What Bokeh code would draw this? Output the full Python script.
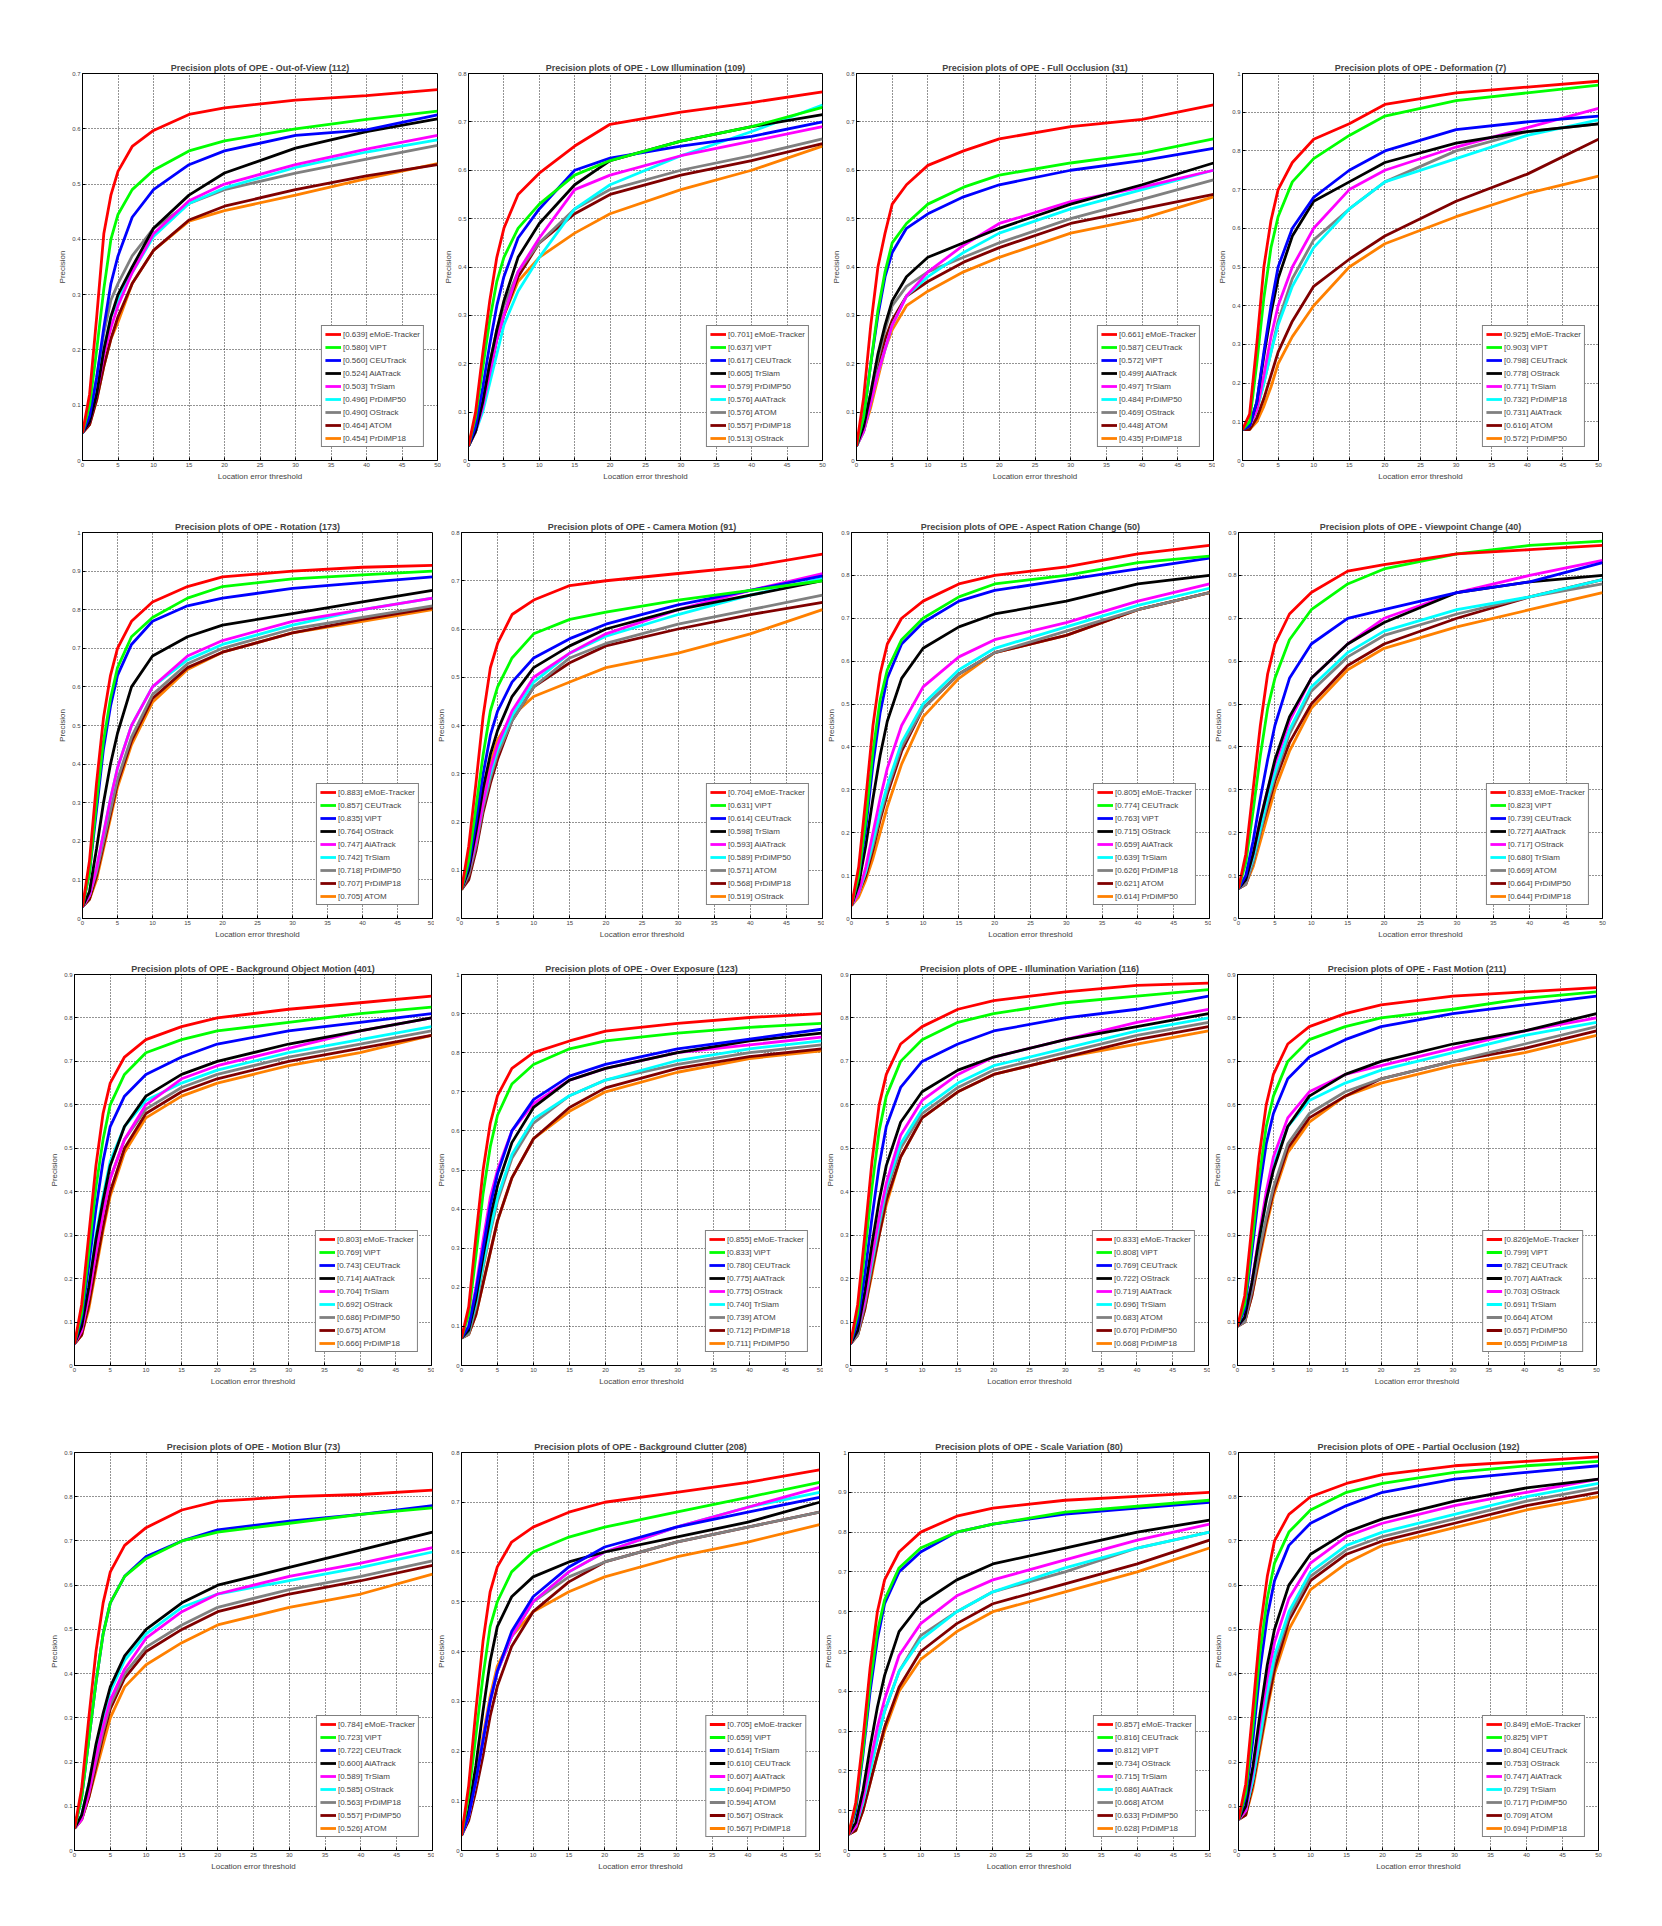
from bokeh.plotting import figure
from bokeh.models import (FixedTicker, CustomJSTickFormatter, Legend, LegendItem,
                          Spacer, Range1d)
from bokeh.layouts import row, column
from bokeh.embed import file_html
from bokeh.resources import INLINE

# ---------------- data ----------------
THRESHOLDS = [0, 1, 2, 3, 4, 5, 7, 10, 15, 20, 30, 40, 50]
COLORS = ["#ff0000", "#00ff00", "#0000ff", "#000000", "#ff00ff",
          "#00ffff", "#808080", "#800000", "#ff8000"]

TITLE_1 = "Precision plots of OPE - Out-of-View (112)"
YMAX_1 = 0.7
NAMES_1 = ["eMoE-Tracker", "ViPT", "CEUTrack", "AiATrack", "TrSiam", "PrDiMP50", "OStrack", "ATOM", "PrDiMP18"]
SCORES_1 = [0.639, 0.580, 0.560, 0.524, 0.503, 0.496, 0.490, 0.464, 0.454]
CURVES_1 = [
    [0.05, 0.12, 0.26, 0.41, 0.48, 0.523, 0.568, 0.597, 0.626, 0.638, 0.652, 0.66, 0.671],
    [0.05, 0.10, 0.20, 0.31, 0.40, 0.445, 0.49, 0.525, 0.56, 0.578, 0.60, 0.617, 0.632],
    [0.05, 0.08, 0.15, 0.24, 0.32, 0.37, 0.44, 0.49, 0.535, 0.56, 0.588, 0.598, 0.625],
    [0.05, 0.07, 0.12, 0.20, 0.26, 0.30, 0.35, 0.42, 0.48, 0.52, 0.565, 0.595, 0.618],
    [0.05, 0.07, 0.12, 0.19, 0.24, 0.28, 0.34, 0.41, 0.47, 0.50, 0.535, 0.563, 0.588],
    [0.05, 0.08, 0.13, 0.20, 0.26, 0.29, 0.34, 0.405, 0.465, 0.493, 0.53, 0.558, 0.58],
    [0.05, 0.08, 0.15, 0.23, 0.29, 0.32, 0.37, 0.42, 0.465, 0.49, 0.52, 0.545, 0.57],
    [0.05, 0.065, 0.11, 0.17, 0.22, 0.26, 0.32, 0.38, 0.435, 0.46, 0.49, 0.515, 0.535],
    [0.05, 0.065, 0.11, 0.17, 0.22, 0.25, 0.32, 0.38, 0.433, 0.452, 0.48, 0.51, 0.537],
]

TITLE_2 = "Precision plots of OPE - Low Illumination (109)"
YMAX_2 = 0.8
NAMES_2 = ["eMoE-Tracker", "ViPT", "CEUTrack", "TrSiam", "PrDiMP50", "AiATrack", "ATOM", "PrDiMP18", "OStrack"]
SCORES_2 = [0.701, 0.637, 0.617, 0.605, 0.579, 0.576, 0.576, 0.557, 0.513]
CURVES_2 = [
    [0.03, 0.10, 0.22, 0.33, 0.42, 0.48, 0.55, 0.594, 0.65, 0.695, 0.72, 0.74, 0.762],
    [0.03, 0.09, 0.19, 0.29, 0.37, 0.42, 0.48, 0.53, 0.59, 0.62, 0.66, 0.69, 0.73],
    [0.03, 0.07, 0.15, 0.24, 0.32, 0.38, 0.46, 0.52, 0.60, 0.625, 0.65, 0.67, 0.70],
    [0.03, 0.06, 0.12, 0.20, 0.27, 0.33, 0.42, 0.49, 0.57, 0.62, 0.66, 0.69, 0.715],
    [0.03, 0.06, 0.11, 0.18, 0.25, 0.30, 0.39, 0.46, 0.56, 0.59, 0.63, 0.66, 0.69],
    [0.03, 0.06, 0.10, 0.16, 0.22, 0.28, 0.35, 0.42, 0.52, 0.57, 0.63, 0.68, 0.735],
    [0.03, 0.06, 0.12, 0.20, 0.27, 0.32, 0.39, 0.45, 0.52, 0.56, 0.60, 0.63, 0.665],
    [0.03, 0.06, 0.11, 0.18, 0.25, 0.30, 0.38, 0.45, 0.51, 0.55, 0.59, 0.62, 0.655],
    [0.03, 0.06, 0.12, 0.20, 0.26, 0.30, 0.37, 0.42, 0.47, 0.51, 0.56, 0.60, 0.65],
]

TITLE_3 = "Precision plots of OPE - Full Occlusion (31)"
YMAX_3 = 0.8
NAMES_3 = ["eMoE-Tracker", "CEUTrack", "ViPT", "AiATrack", "TrSiam", "PrDiMP50", "OStrack", "ATOM", "PrDiMP18"]
SCORES_3 = [0.661, 0.587, 0.572, 0.499, 0.497, 0.484, 0.469, 0.448, 0.435]
CURVES_3 = [
    [0.03, 0.13, 0.28, 0.40, 0.47, 0.53, 0.57, 0.61, 0.64, 0.665, 0.69, 0.705, 0.735],
    [0.03, 0.09, 0.20, 0.31, 0.39, 0.45, 0.49, 0.53, 0.565, 0.59, 0.615, 0.635, 0.665],
    [0.03, 0.09, 0.20, 0.30, 0.38, 0.43, 0.48, 0.51, 0.545, 0.57, 0.60, 0.62, 0.645],
    [0.03, 0.07, 0.14, 0.22, 0.28, 0.33, 0.38, 0.42, 0.45, 0.48, 0.53, 0.57, 0.615],
    [0.03, 0.06, 0.12, 0.18, 0.23, 0.28, 0.34, 0.39, 0.445, 0.49, 0.535, 0.565, 0.60],
    [0.03, 0.06, 0.12, 0.18, 0.23, 0.28, 0.34, 0.38, 0.43, 0.47, 0.52, 0.56, 0.60],
    [0.03, 0.07, 0.14, 0.21, 0.27, 0.32, 0.36, 0.39, 0.42, 0.45, 0.50, 0.54, 0.58],
    [0.03, 0.06, 0.12, 0.19, 0.25, 0.29, 0.34, 0.37, 0.41, 0.44, 0.49, 0.52, 0.55],
    [0.03, 0.06, 0.11, 0.17, 0.23, 0.27, 0.32, 0.35, 0.39, 0.42, 0.47, 0.50, 0.545],
]

TITLE_4 = "Precision plots of OPE - Deformation (7)"
YMAX_4 = 1.0
NAMES_4 = ["eMoE-Tracker", "ViPT", "CEUTrack", "OStrack", "TrSiam", "PrDiMP18", "AiATrack", "ATOM", "PrDiMP50"]
SCORES_4 = [0.925, 0.903, 0.798, 0.778, 0.771, 0.732, 0.731, 0.616, 0.572]
CURVES_4 = [
    [0.08, 0.12, 0.30, 0.50, 0.62, 0.70, 0.77, 0.83, 0.87, 0.92, 0.95, 0.965, 0.98],
    [0.08, 0.10, 0.25, 0.42, 0.55, 0.63, 0.72, 0.78, 0.84, 0.89, 0.93, 0.95, 0.97],
    [0.08, 0.09, 0.15, 0.28, 0.40, 0.50, 0.60, 0.68, 0.75, 0.80, 0.855, 0.875, 0.89],
    [0.08, 0.09, 0.15, 0.27, 0.38, 0.47, 0.58, 0.67, 0.72, 0.77, 0.82, 0.85, 0.87],
    [0.08, 0.09, 0.13, 0.22, 0.32, 0.40, 0.50, 0.60, 0.70, 0.75, 0.81, 0.86, 0.91],
    [0.08, 0.09, 0.13, 0.20, 0.28, 0.35, 0.45, 0.55, 0.65, 0.72, 0.78, 0.84, 0.88],
    [0.08, 0.09, 0.13, 0.20, 0.28, 0.36, 0.47, 0.57, 0.65, 0.72, 0.80, 0.85, 0.87],
    [0.08, 0.08, 0.11, 0.16, 0.22, 0.28, 0.36, 0.45, 0.52, 0.58, 0.67, 0.74, 0.83],
    [0.08, 0.08, 0.10, 0.14, 0.19, 0.25, 0.32, 0.40, 0.50, 0.56, 0.63, 0.69, 0.735],
]

TITLE_5 = "Precision plots of OPE - Rotation (173)"
YMAX_5 = 1.0
NAMES_5 = ["eMoE-Tracker", "CEUTrack", "ViPT", "OStrack", "AiATrack", "TrSiam", "PrDiMP50", "PrDiMP18", "ATOM"]
SCORES_5 = [0.883, 0.857, 0.835, 0.764, 0.747, 0.742, 0.718, 0.707, 0.705]
CURVES_5 = [
    [0.03, 0.15, 0.35, 0.52, 0.63, 0.70, 0.77, 0.82, 0.86, 0.885, 0.90, 0.91, 0.915],
    [0.03, 0.12, 0.30, 0.46, 0.57, 0.65, 0.73, 0.78, 0.83, 0.86, 0.88, 0.89, 0.90],
    [0.03, 0.12, 0.28, 0.44, 0.55, 0.63, 0.71, 0.77, 0.81, 0.83, 0.855, 0.87, 0.885],
    [0.03, 0.07, 0.18, 0.30, 0.40, 0.48, 0.60, 0.68, 0.73, 0.76, 0.79, 0.82, 0.85],
    [0.03, 0.06, 0.13, 0.22, 0.31, 0.39, 0.50, 0.60, 0.68, 0.72, 0.77, 0.80, 0.83],
    [0.03, 0.06, 0.13, 0.22, 0.31, 0.39, 0.50, 0.60, 0.67, 0.71, 0.76, 0.80, 0.83],
    [0.03, 0.06, 0.12, 0.20, 0.28, 0.36, 0.47, 0.58, 0.66, 0.70, 0.75, 0.78, 0.81],
    [0.03, 0.05, 0.11, 0.19, 0.27, 0.35, 0.46, 0.57, 0.65, 0.69, 0.74, 0.775, 0.805],
    [0.03, 0.05, 0.10, 0.18, 0.26, 0.34, 0.45, 0.56, 0.645, 0.69, 0.74, 0.77, 0.80],
]

TITLE_6 = "Precision plots of OPE - Camera Motion (91)"
YMAX_6 = 0.8
NAMES_6 = ["eMoE-Tracker", "ViPT", "CEUTrack", "TrSiam", "AiATrack", "PrDiMP50", "ATOM", "PrDiMP18", "OStrack"]
SCORES_6 = [0.704, 0.631, 0.614, 0.598, 0.593, 0.589, 0.571, 0.568, 0.519]
CURVES_6 = [
    [0.06, 0.15, 0.28, 0.42, 0.52, 0.57, 0.63, 0.66, 0.69, 0.70, 0.715, 0.73, 0.755],
    [0.06, 0.12, 0.23, 0.34, 0.43, 0.48, 0.54, 0.59, 0.62, 0.635, 0.66, 0.68, 0.70],
    [0.06, 0.11, 0.20, 0.30, 0.38, 0.43, 0.49, 0.54, 0.58, 0.61, 0.65, 0.68, 0.71],
    [0.06, 0.10, 0.18, 0.27, 0.34, 0.39, 0.46, 0.52, 0.565, 0.60, 0.64, 0.67, 0.70],
    [0.06, 0.10, 0.16, 0.24, 0.31, 0.36, 0.43, 0.50, 0.55, 0.59, 0.64, 0.68, 0.715],
    [0.06, 0.10, 0.16, 0.24, 0.30, 0.35, 0.42, 0.49, 0.55, 0.585, 0.63, 0.67, 0.705],
    [0.06, 0.09, 0.15, 0.23, 0.29, 0.34, 0.41, 0.48, 0.54, 0.57, 0.61, 0.64, 0.67],
    [0.06, 0.08, 0.14, 0.22, 0.28, 0.33, 0.41, 0.48, 0.53, 0.565, 0.60, 0.63, 0.655],
    [0.06, 0.09, 0.16, 0.25, 0.32, 0.37, 0.42, 0.46, 0.49, 0.52, 0.55, 0.59, 0.64],
]

TITLE_7 = "Precision plots of OPE - Aspect Ration Change (50)"
YMAX_7 = 0.9
NAMES_7 = ["eMoE-Tracker", "CEUTrack", "ViPT", "OStrack", "AiATrack", "TrSiam", "PrDiMP18", "ATOM", "PrDiMP50"]
SCORES_7 = [0.805, 0.774, 0.763, 0.715, 0.659, 0.639, 0.626, 0.621, 0.614]
CURVES_7 = [
    [0.03, 0.12, 0.28, 0.45, 0.57, 0.64, 0.70, 0.74, 0.78, 0.80, 0.82, 0.85, 0.87],
    [0.03, 0.10, 0.23, 0.39, 0.51, 0.58, 0.65, 0.70, 0.75, 0.78, 0.80, 0.83, 0.845],
    [0.03, 0.10, 0.21, 0.36, 0.48, 0.56, 0.64, 0.69, 0.74, 0.765, 0.79, 0.815, 0.84],
    [0.03, 0.08, 0.17, 0.28, 0.38, 0.46, 0.56, 0.63, 0.68, 0.71, 0.74, 0.78, 0.80],
    [0.03, 0.06, 0.12, 0.20, 0.28, 0.35, 0.45, 0.54, 0.61, 0.65, 0.69, 0.74, 0.78],
    [0.03, 0.06, 0.11, 0.18, 0.25, 0.31, 0.41, 0.50, 0.58, 0.63, 0.68, 0.73, 0.77],
    [0.03, 0.06, 0.11, 0.17, 0.24, 0.30, 0.40, 0.49, 0.57, 0.62, 0.67, 0.72, 0.76],
    [0.03, 0.06, 0.10, 0.16, 0.23, 0.29, 0.39, 0.49, 0.57, 0.62, 0.66, 0.72, 0.76],
    [0.03, 0.05, 0.09, 0.14, 0.20, 0.26, 0.36, 0.47, 0.56, 0.62, 0.66, 0.72, 0.76],
]

TITLE_8 = "Precision plots of OPE - Viewpoint Change (40)"
YMAX_8 = 0.9
NAMES_8 = ["eMoE-Tracker", "ViPT", "CEUTrack", "AiATrack", "OStrack", "TrSiam", "ATOM", "PrDiMP50", "PrDiMP18"]
SCORES_8 = [0.833, 0.823, 0.739, 0.727, 0.717, 0.680, 0.669, 0.664, 0.644]
CURVES_8 = [
    [0.07, 0.15, 0.30, 0.45, 0.57, 0.64, 0.71, 0.76, 0.81, 0.825, 0.85, 0.86, 0.87],
    [0.07, 0.13, 0.25, 0.38, 0.49, 0.56, 0.65, 0.72, 0.78, 0.815, 0.85, 0.87, 0.88],
    [0.07, 0.10, 0.18, 0.28, 0.37, 0.45, 0.56, 0.64, 0.70, 0.72, 0.76, 0.785, 0.83],
    [0.07, 0.09, 0.15, 0.23, 0.30, 0.37, 0.47, 0.56, 0.64, 0.69, 0.76, 0.785, 0.80],
    [0.07, 0.09, 0.15, 0.23, 0.30, 0.36, 0.46, 0.56, 0.64, 0.70, 0.76, 0.80, 0.835],
    [0.07, 0.09, 0.14, 0.21, 0.28, 0.34, 0.44, 0.54, 0.62, 0.67, 0.72, 0.75, 0.79],
    [0.07, 0.08, 0.13, 0.20, 0.27, 0.33, 0.43, 0.53, 0.61, 0.66, 0.71, 0.75, 0.78],
    [0.07, 0.08, 0.13, 0.20, 0.26, 0.32, 0.41, 0.50, 0.59, 0.64, 0.70, 0.75, 0.79],
    [0.07, 0.08, 0.12, 0.18, 0.24, 0.30, 0.39, 0.49, 0.58, 0.63, 0.68, 0.72, 0.76],
]

TITLE_9 = "Precision plots of OPE - Background Object Motion (401)"
YMAX_9 = 0.9
NAMES_9 = ["eMoE-Tracker", "ViPT", "CEUTrack", "AiATrack", "TrSiam", "OStrack", "PrDiMP50", "ATOM", "PrDiMP18"]
SCORES_9 = [0.803, 0.769, 0.743, 0.714, 0.704, 0.692, 0.686, 0.675, 0.666]
CURVES_9 = [
    [0.05, 0.14, 0.30, 0.46, 0.58, 0.65, 0.71, 0.75, 0.78, 0.80, 0.82, 0.835, 0.85],
    [0.05, 0.12, 0.26, 0.41, 0.52, 0.60, 0.67, 0.72, 0.75, 0.77, 0.79, 0.81, 0.825],
    [0.05, 0.11, 0.23, 0.36, 0.47, 0.55, 0.62, 0.67, 0.71, 0.74, 0.77, 0.79, 0.81],
    [0.05, 0.09, 0.18, 0.29, 0.38, 0.46, 0.55, 0.62, 0.67, 0.70, 0.74, 0.77, 0.80],
    [0.05, 0.08, 0.16, 0.26, 0.35, 0.43, 0.52, 0.60, 0.66, 0.69, 0.73, 0.77, 0.80],
    [0.05, 0.09, 0.18, 0.30, 0.39, 0.47, 0.55, 0.61, 0.65, 0.68, 0.72, 0.75, 0.78],
    [0.05, 0.08, 0.16, 0.26, 0.35, 0.43, 0.52, 0.59, 0.64, 0.67, 0.71, 0.74, 0.77],
    [0.05, 0.07, 0.14, 0.23, 0.32, 0.40, 0.50, 0.58, 0.63, 0.66, 0.70, 0.73, 0.76],
    [0.05, 0.07, 0.13, 0.22, 0.31, 0.39, 0.49, 0.57, 0.62, 0.65, 0.69, 0.72, 0.76],
]

TITLE_10 = "Precision plots of OPE - Over Exposure (123)"
YMAX_10 = 1.0
NAMES_10 = ["eMoE-Tracker", "ViPT", "CEUTrack", "AiATrack", "OStrack", "TrSiam", "ATOM", "PrDiMP18", "PrDiMP50"]
SCORES_10 = [0.855, 0.833, 0.780, 0.775, 0.775, 0.740, 0.739, 0.712, 0.711]
CURVES_10 = [
    [0.07, 0.15, 0.33, 0.50, 0.62, 0.69, 0.76, 0.80, 0.83, 0.855, 0.875, 0.89, 0.90],
    [0.07, 0.13, 0.28, 0.44, 0.56, 0.64, 0.72, 0.77, 0.81, 0.83, 0.85, 0.865, 0.875],
    [0.07, 0.10, 0.19, 0.30, 0.41, 0.49, 0.60, 0.68, 0.74, 0.77, 0.81, 0.835, 0.86],
    [0.07, 0.09, 0.17, 0.28, 0.38, 0.46, 0.57, 0.66, 0.73, 0.76, 0.80, 0.83, 0.85],
    [0.07, 0.10, 0.20, 0.32, 0.43, 0.50, 0.60, 0.67, 0.73, 0.76, 0.80, 0.82, 0.84],
    [0.07, 0.09, 0.16, 0.26, 0.35, 0.43, 0.54, 0.63, 0.69, 0.73, 0.78, 0.81, 0.83],
    [0.07, 0.08, 0.15, 0.25, 0.34, 0.42, 0.53, 0.62, 0.69, 0.73, 0.77, 0.80, 0.82],
    [0.07, 0.08, 0.13, 0.21, 0.29, 0.37, 0.48, 0.58, 0.66, 0.71, 0.76, 0.79, 0.81],
    [0.07, 0.08, 0.13, 0.21, 0.29, 0.37, 0.48, 0.58, 0.65, 0.70, 0.75, 0.785, 0.805],
]

TITLE_11 = "Precision plots of OPE - Illumination Variation (116)"
YMAX_11 = 0.9
NAMES_11 = ["eMoE-Tracker", "ViPT", "CEUTrack", "OStrack", "AiATrack", "TrSiam", "ATOM", "PrDiMP50", "PrDiMP18"]
SCORES_11 = [0.833, 0.808, 0.769, 0.722, 0.719, 0.696, 0.683, 0.670, 0.668]
CURVES_11 = [
    [0.05, 0.14, 0.30, 0.47, 0.60, 0.67, 0.74, 0.78, 0.82, 0.84, 0.86, 0.875, 0.88],
    [0.05, 0.12, 0.26, 0.41, 0.54, 0.62, 0.70, 0.75, 0.79, 0.81, 0.835, 0.85, 0.865],
    [0.05, 0.10, 0.21, 0.34, 0.46, 0.55, 0.64, 0.70, 0.74, 0.77, 0.80, 0.82, 0.85],
    [0.05, 0.08, 0.17, 0.28, 0.38, 0.46, 0.56, 0.63, 0.68, 0.71, 0.75, 0.78, 0.81],
    [0.05, 0.08, 0.15, 0.25, 0.34, 0.42, 0.53, 0.61, 0.67, 0.71, 0.75, 0.79, 0.82],
    [0.05, 0.08, 0.15, 0.24, 0.33, 0.41, 0.51, 0.59, 0.65, 0.69, 0.73, 0.77, 0.80],
    [0.05, 0.07, 0.14, 0.23, 0.32, 0.40, 0.50, 0.58, 0.64, 0.68, 0.72, 0.76, 0.79],
    [0.05, 0.07, 0.13, 0.22, 0.30, 0.38, 0.48, 0.57, 0.63, 0.67, 0.71, 0.75, 0.78],
    [0.05, 0.07, 0.13, 0.21, 0.30, 0.37, 0.48, 0.57, 0.63, 0.67, 0.71, 0.74, 0.77],
]

TITLE_12 = "Precision plots of OPE - Fast Motion (211)"
YMAX_12 = 0.9
NAMES_12 = ["eMoE-Tracker", "ViPT", "CEUTrack", "AiATrack", "OStrack", "TrSiam", "ATOM", "PrDiMP50", "PrDiMP18"]
SCORES_12 = [0.826, 0.799, 0.782, 0.707, 0.703, 0.691, 0.664, 0.657, 0.655]
CURVES_12 = [
    [0.09, 0.16, 0.32, 0.48, 0.60, 0.67, 0.74, 0.78, 0.81, 0.83, 0.85, 0.86, 0.87],
    [0.09, 0.14, 0.28, 0.43, 0.55, 0.62, 0.70, 0.75, 0.78, 0.80, 0.82, 0.845, 0.86],
    [0.09, 0.13, 0.26, 0.40, 0.51, 0.58, 0.66, 0.71, 0.75, 0.78, 0.81, 0.83, 0.85],
    [0.09, 0.11, 0.19, 0.29, 0.38, 0.45, 0.55, 0.62, 0.67, 0.70, 0.74, 0.77, 0.81],
    [0.09, 0.11, 0.19, 0.30, 0.40, 0.48, 0.57, 0.63, 0.67, 0.69, 0.73, 0.77, 0.80],
    [0.09, 0.11, 0.19, 0.29, 0.38, 0.46, 0.55, 0.61, 0.65, 0.68, 0.72, 0.76, 0.79],
    [0.09, 0.10, 0.17, 0.26, 0.34, 0.41, 0.51, 0.58, 0.63, 0.66, 0.70, 0.74, 0.78],
    [0.09, 0.10, 0.16, 0.25, 0.33, 0.40, 0.50, 0.57, 0.62, 0.66, 0.70, 0.73, 0.77],
    [0.09, 0.10, 0.16, 0.24, 0.32, 0.39, 0.49, 0.56, 0.62, 0.65, 0.69, 0.72, 0.76],
]

TITLE_13 = "Precision plots of OPE - Motion Blur (73)"
YMAX_13 = 0.9
NAMES_13 = ["eMoE-Tracker", "ViPT", "CEUTrack", "AiATrack", "TrSiam", "OStrack", "PrDiMP18", "PrDiMP50", "ATOM"]
SCORES_13 = [0.784, 0.723, 0.722, 0.600, 0.589, 0.585, 0.563, 0.557, 0.526]
CURVES_13 = [
    [0.05, 0.14, 0.30, 0.45, 0.56, 0.63, 0.69, 0.73, 0.77, 0.79, 0.80, 0.805, 0.815],
    [0.05, 0.12, 0.25, 0.38, 0.49, 0.56, 0.62, 0.66, 0.70, 0.72, 0.74, 0.76, 0.775],
    [0.05, 0.12, 0.25, 0.38, 0.49, 0.56, 0.62, 0.665, 0.70, 0.725, 0.745, 0.76, 0.78],
    [0.05, 0.08, 0.15, 0.24, 0.31, 0.37, 0.44, 0.50, 0.56, 0.60, 0.64, 0.68, 0.72],
    [0.05, 0.07, 0.13, 0.21, 0.28, 0.34, 0.41, 0.48, 0.54, 0.58, 0.62, 0.65, 0.685],
    [0.05, 0.08, 0.15, 0.23, 0.30, 0.36, 0.43, 0.49, 0.55, 0.58, 0.61, 0.64, 0.675],
    [0.05, 0.07, 0.13, 0.20, 0.27, 0.33, 0.40, 0.46, 0.51, 0.55, 0.59, 0.62, 0.655],
    [0.05, 0.07, 0.12, 0.19, 0.26, 0.32, 0.39, 0.45, 0.50, 0.54, 0.58, 0.61, 0.645],
    [0.05, 0.07, 0.12, 0.18, 0.24, 0.30, 0.37, 0.42, 0.47, 0.51, 0.55, 0.58, 0.625],
]

TITLE_14 = "Precision plots of OPE - Background Clutter (208)"
YMAX_14 = 0.8
NAMES_14 = ["eMoE-tracker", "ViPT", "TrSiam", "CEUTrack", "AiATrack", "PrDiMP50", "ATOM", "OStrack", "PrDiMP18"]
SCORES_14 = [0.705, 0.659, 0.614, 0.610, 0.607, 0.604, 0.594, 0.567, 0.567]
CURVES_14 = [
    [0.03, 0.13, 0.28, 0.42, 0.52, 0.57, 0.62, 0.65, 0.68, 0.70, 0.72, 0.74, 0.765],
    [0.03, 0.11, 0.23, 0.35, 0.45, 0.50, 0.56, 0.60, 0.63, 0.65, 0.68, 0.71, 0.74],
    [0.03, 0.07, 0.14, 0.22, 0.30, 0.36, 0.44, 0.51, 0.57, 0.61, 0.65, 0.68, 0.71],
    [0.03, 0.08, 0.17, 0.28, 0.38, 0.45, 0.51, 0.55, 0.58, 0.60, 0.63, 0.66, 0.70],
    [0.03, 0.07, 0.14, 0.22, 0.30, 0.36, 0.43, 0.50, 0.56, 0.60, 0.65, 0.69, 0.73],
    [0.03, 0.07, 0.14, 0.22, 0.30, 0.36, 0.43, 0.50, 0.56, 0.60, 0.65, 0.69, 0.72],
    [0.03, 0.07, 0.14, 0.22, 0.30, 0.36, 0.43, 0.50, 0.55, 0.58, 0.62, 0.65, 0.68],
    [0.03, 0.06, 0.12, 0.19, 0.27, 0.33, 0.41, 0.48, 0.54, 0.58, 0.62, 0.65, 0.68],
    [0.03, 0.07, 0.14, 0.23, 0.31, 0.37, 0.43, 0.48, 0.52, 0.55, 0.59, 0.62, 0.655],
]

TITLE_15 = "Precision plots of OPE - Scale Variation (80)"
YMAX_15 = 1.0
NAMES_15 = ["eMoE-Tracker", "CEUTrack", "ViPT", "OStrack", "TrSiam", "AiATrack", "ATOM", "PrDiMP50", "PrDiMP18"]
SCORES_15 = [0.857, 0.816, 0.812, 0.734, 0.715, 0.686, 0.668, 0.633, 0.628]
CURVES_15 = [
    [0.04, 0.12, 0.28, 0.46, 0.60, 0.68, 0.75, 0.80, 0.84, 0.86, 0.88, 0.89, 0.90],
    [0.04, 0.11, 0.25, 0.42, 0.55, 0.63, 0.71, 0.76, 0.80, 0.82, 0.85, 0.865, 0.88],
    [0.04, 0.10, 0.24, 0.40, 0.53, 0.62, 0.70, 0.75, 0.80, 0.82, 0.845, 0.86, 0.875],
    [0.04, 0.07, 0.15, 0.26, 0.36, 0.44, 0.55, 0.62, 0.68, 0.72, 0.76, 0.80, 0.83],
    [0.04, 0.06, 0.13, 0.22, 0.31, 0.38, 0.49, 0.57, 0.64, 0.68, 0.73, 0.78, 0.82],
    [0.04, 0.06, 0.12, 0.20, 0.28, 0.35, 0.45, 0.53, 0.60, 0.65, 0.71, 0.76, 0.80],
    [0.04, 0.06, 0.12, 0.20, 0.28, 0.35, 0.45, 0.54, 0.60, 0.65, 0.70, 0.76, 0.80],
    [0.04, 0.05, 0.10, 0.17, 0.24, 0.31, 0.41, 0.50, 0.57, 0.62, 0.67, 0.72, 0.78],
    [0.04, 0.05, 0.10, 0.17, 0.24, 0.30, 0.40, 0.48, 0.55, 0.60, 0.65, 0.70, 0.76],
]

TITLE_16 = "Precision plots of OPE - Partial Occlusion (192)"
YMAX_16 = 0.9
NAMES_16 = ["eMoE-Tracker", "ViPT", "CEUTrack", "OStrack", "AiATrack", "TrSiam", "PrDiMP50", "ATOM", "PrDiMP18"]
SCORES_16 = [0.849, 0.825, 0.804, 0.753, 0.747, 0.729, 0.717, 0.709, 0.694]
CURVES_16 = [
    [0.07, 0.15, 0.32, 0.50, 0.62, 0.70, 0.76, 0.80, 0.83, 0.85, 0.87, 0.88, 0.89],
    [0.07, 0.13, 0.28, 0.45, 0.57, 0.65, 0.72, 0.77, 0.81, 0.83, 0.855, 0.87, 0.88],
    [0.07, 0.12, 0.25, 0.41, 0.53, 0.61, 0.69, 0.74, 0.78, 0.81, 0.84, 0.855, 0.87],
    [0.07, 0.10, 0.19, 0.31, 0.42, 0.50, 0.60, 0.67, 0.72, 0.75, 0.79, 0.82, 0.84],
    [0.07, 0.09, 0.18, 0.29, 0.39, 0.47, 0.57, 0.65, 0.71, 0.74, 0.78, 0.81, 0.84],
    [0.07, 0.09, 0.16, 0.26, 0.36, 0.44, 0.54, 0.63, 0.69, 0.72, 0.76, 0.80, 0.83],
    [0.07, 0.09, 0.16, 0.25, 0.35, 0.43, 0.53, 0.62, 0.68, 0.71, 0.75, 0.79, 0.82],
    [0.07, 0.08, 0.15, 0.24, 0.33, 0.41, 0.52, 0.61, 0.67, 0.70, 0.74, 0.78, 0.81],
    [0.07, 0.08, 0.14, 0.23, 0.32, 0.40, 0.50, 0.59, 0.65, 0.69, 0.73, 0.77, 0.80],
]

SUBPLOTS = [
    (TITLE_1, YMAX_1, NAMES_1, SCORES_1, CURVES_1),
    (TITLE_2, YMAX_2, NAMES_2, SCORES_2, CURVES_2),
    (TITLE_3, YMAX_3, NAMES_3, SCORES_3, CURVES_3),
    (TITLE_4, YMAX_4, NAMES_4, SCORES_4, CURVES_4),
    (TITLE_5, YMAX_5, NAMES_5, SCORES_5, CURVES_5),
    (TITLE_6, YMAX_6, NAMES_6, SCORES_6, CURVES_6),
    (TITLE_7, YMAX_7, NAMES_7, SCORES_7, CURVES_7),
    (TITLE_8, YMAX_8, NAMES_8, SCORES_8, CURVES_8),
    (TITLE_9, YMAX_9, NAMES_9, SCORES_9, CURVES_9),
    (TITLE_10, YMAX_10, NAMES_10, SCORES_10, CURVES_10),
    (TITLE_11, YMAX_11, NAMES_11, SCORES_11, CURVES_11),
    (TITLE_12, YMAX_12, NAMES_12, SCORES_12, CURVES_12),
    (TITLE_13, YMAX_13, NAMES_13, SCORES_13, CURVES_13),
    (TITLE_14, YMAX_14, NAMES_14, SCORES_14, CURVES_14),
    (TITLE_15, YMAX_15, NAMES_15, SCORES_15, CURVES_15),
    (TITLE_16, YMAX_16, NAMES_16, SCORES_16, CURVES_16),
]
NO_SPACE_LABELS = {(11, 0)}   # "[0.826]eMoE-Tracker" in Fast Motion

# ---------------- layout (page pixels) ----------------
FRAME_X = [
    [(82, 438), (468, 823), (856, 1214), (1241, 1599)],
    [(82, 436), (458, 830), (843, 1216), (1232, 1603)],
    [(74, 432), (461, 823), (848, 1211), (1235, 1597)],
    [(74, 434), (459, 823), (845, 1214), (1233, 1599)],
]
FRAME_Y = [(74, 461), (533, 919), (975, 1366), (1453, 1851)]
ORIGIN = 1          # effective page offset observed in rendering
L_BORDER = 26
MIN_GAP = 28
T_BORDER = 20
B_BORDER = 28
FONT = "Liberation Sans"


def fix_gaps(frames):
    fr = [list(f) for f in frames]
    for j in range(1, len(fr)):
        gap = fr[j][0] - fr[j - 1][1]
        if gap < MIN_GAP:
            d = MIN_GAP - gap
            fr[j - 1][1] -= d // 2
            fr[j][0] += d - d // 2
    return fr


def make_plot(k, spec, width, fw, fh, right_border):
    title, ymax, names, scores, curves = spec
    p = figure(width=width, height=T_BORDER + fh + B_BORDER,
               x_range=Range1d(0, 50), y_range=Range1d(0, ymax),
               output_backend="svg", toolbar_location=None,
               min_border_left=L_BORDER, min_border_right=right_border,
               min_border_top=T_BORDER, min_border_bottom=B_BORDER)
    p.title.text = title
    p.title.align = "center"
    p.title.text_font = FONT
    p.title.text_font_size = "9px"
    p.title.text_font_style = "bold"
    p.title.standoff = 2
    p.title.offset = 0
    p.outline_line_color = "black"
    p.outline_line_width = 1
    p.outline_line_alpha = 1

    nt = int(round(ymax * 10))
    p.yaxis.ticker = FixedTicker(ticks=[i / 10 for i in range(nt + 1)])
    p.yaxis.formatter = CustomJSTickFormatter(code="return String(Math.round(tick*10)/10);")
    p.xaxis.ticker = FixedTicker(ticks=list(range(0, 51, 5)))
    p.xaxis.axis_label = "Location error threshold"
    p.yaxis.axis_label = "Precision"
    for ax in (p.xaxis, p.yaxis):
        ax.axis_label_text_font = FONT
        ax.axis_label_text_font_size = "8px"
        ax.axis_label_text_font_style = "normal"
        ax.axis_label_standoff = 2
        ax.major_label_text_font = FONT
        ax.major_label_text_font_size = "6px"
        ax.major_label_standoff = 2
        ax.major_tick_in = 3
        ax.major_tick_out = 0
        ax.minor_tick_in = 0
        ax.minor_tick_out = 0
        ax.axis_line_color = "black"
        ax.major_tick_line_color = "black"
    for g in (p.xgrid, p.ygrid):
        g.grid_line_color = "black"
        g.grid_line_alpha = 0.85
        g.grid_line_dash = "1 2"
        g.grid_line_width = 1

    renderers = [None] * len(curves)
    for i in reversed(range(len(curves))):
        renderers[i] = p.line(THRESHOLDS, curves[i], line_color=COLORS[i],
                              line_width=2.8)
    items = []
    for i, (n, s) in enumerate(zip(names, scores)):
        sep = "" if (k, i) in NO_SPACE_LABELS else " "
        items.append(LegendItem(label="[%.3f]%s%s" % (s, sep, n), renderers=[renderers[i]]))
    leg = Legend(items=items, location="bottom_right")
    leg.margin = 13
    leg.padding = 3
    leg.spacing = 3
    leg.label_standoff = 2
    leg.glyph_width = 16
    leg.glyph_height = 10
    leg.label_height = 10
    leg.label_text_font = FONT
    leg.label_text_font_size = "8px"
    leg.border_line_color = "black"
    leg.border_line_width = 1
    leg.background_fill_alpha = 1
    p.add_layout(leg)
    return p


rows = []
prev_end = ORIGIN
for r in range(4):
    frames = fix_gaps(FRAME_X[r])
    top, bottom = FRAME_Y[r]
    fh = bottom - top
    row_start = top - T_BORDER
    children = []
    if row_start - prev_end > 0:
        rows.append(Spacer(width=10, height=row_start - prev_end))
    children.append(Spacer(width=frames[0][0] - L_BORDER - ORIGIN, height=10))
    for c in range(4):
        k = r * 4 + c
        fw = frames[c][1] - frames[c][0]
        if c < 3:
            width = frames[c + 1][0] - frames[c][0]
        else:
            width = fw + L_BORDER + 12
        right_border = width - L_BORDER - fw
        children.append(make_plot(k, SUBPLOTS[k], width, fw, fh, right_border))
    rows.append(row(*children))
    prev_end = row_start + T_BORDER + fh + B_BORDER

layout = column(*rows)
open("out.html", "w").write(file_html(layout, INLINE))
